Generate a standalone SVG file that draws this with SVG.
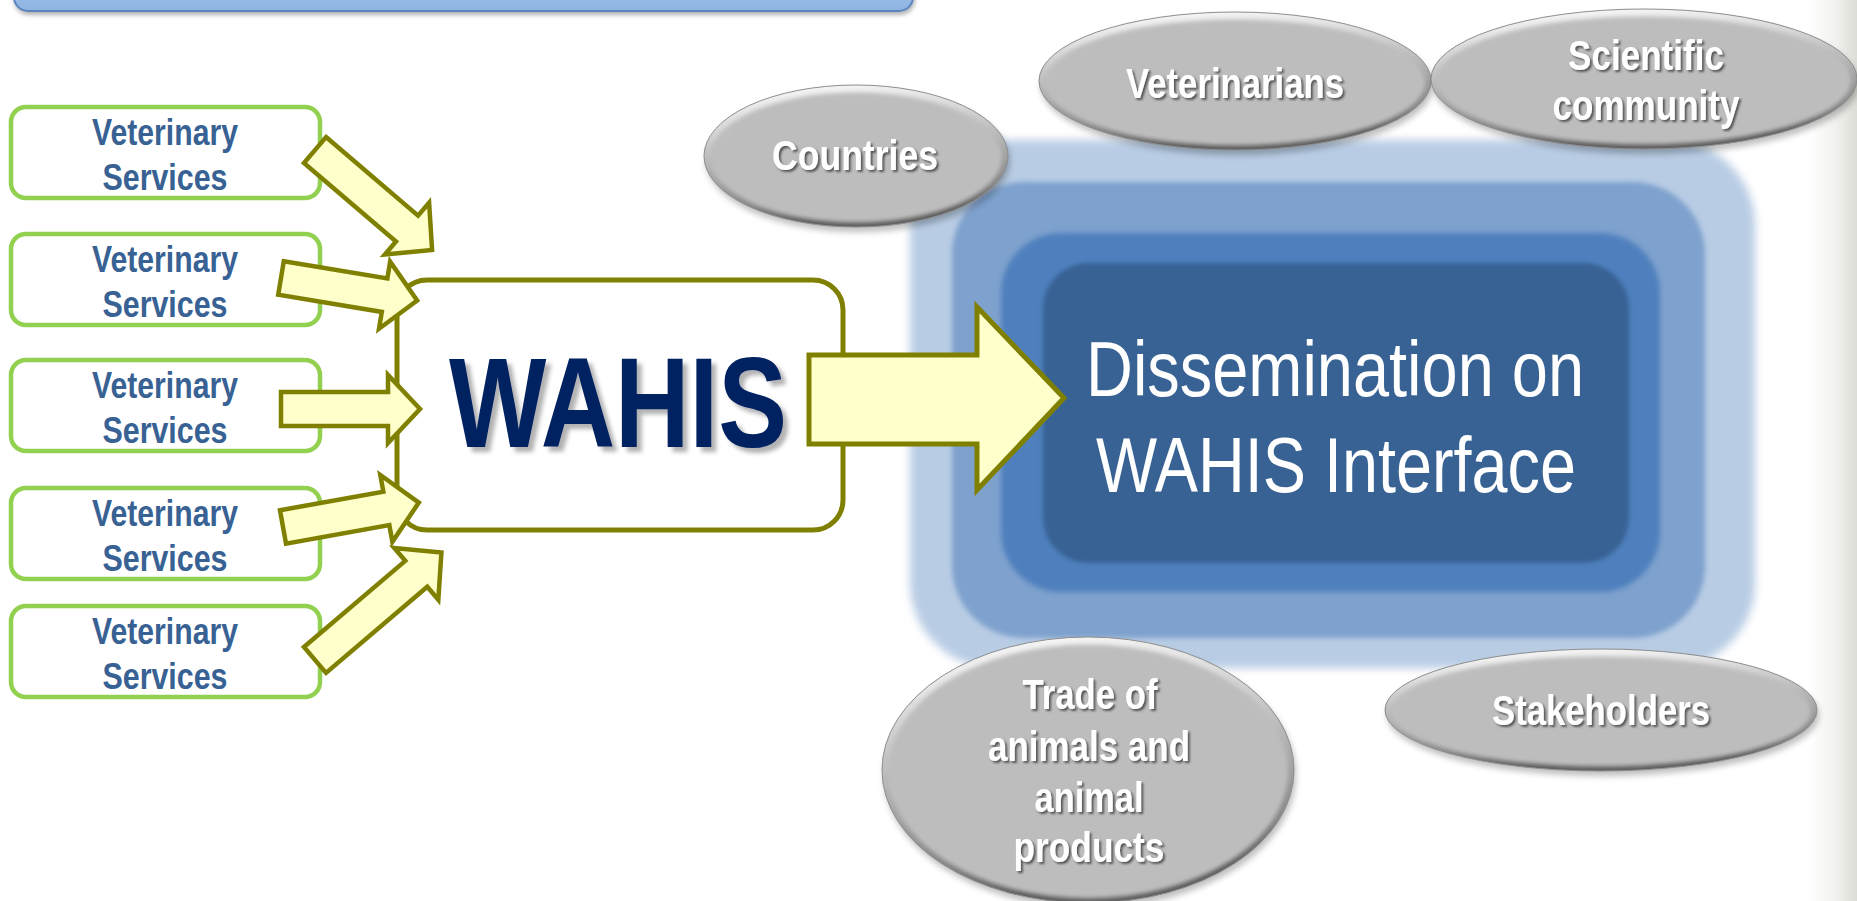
<svg xmlns="http://www.w3.org/2000/svg" width="1857" height="901" viewBox="0 0 1857 901">
<style>
.vt{font-family:"Liberation Sans Narrow","Liberation Sans",Arial,sans-serif;font-weight:bold;font-size:37px;fill:#386194;text-anchor:middle}
.ot{font-family:"Liberation Sans Narrow","Liberation Sans",Arial,sans-serif;font-weight:bold;font-size:42px;fill:#ffffff;text-anchor:middle;filter:url(#tsh)}
.dt{font-family:"Liberation Sans Narrow","Liberation Sans",Arial,sans-serif;font-size:78px;fill:#ffffff;text-anchor:middle}
.vbox{fill:#ffffff;stroke:#92d050;stroke-width:4.5}
.sarrow{fill:#ffffcc;stroke:#808000;stroke-width:4.5;stroke-linejoin:miter}
.rim{fill:url(#rimG);stroke:#8e8e8e;stroke-width:1}
.face{fill:#bdbdbd;filter:url(#soft)}
.osh{fill:#000;opacity:0.25;filter:url(#shb)}
</style>
<defs>
<linearGradient id="barG" x1="0" y1="0" x2="0" y2="1"><stop offset="0" stop-color="#b6d1ee"/><stop offset="1" stop-color="#8db3e2"/></linearGradient>
<linearGradient id="rimG" x1="0" y1="0" x2="0.2" y2="1"><stop offset="0" stop-color="#ffffff"/><stop offset="0.2" stop-color="#e6e6e6"/><stop offset="0.55" stop-color="#b4b4b4"/><stop offset="0.85" stop-color="#858585"/><stop offset="1" stop-color="#5c5c5c"/></linearGradient>
<linearGradient id="stripG" x1="0" y1="0" x2="1" y2="0"><stop offset="0" stop-color="#ffffff"/><stop offset="0.55" stop-color="#f1f1ee"/><stop offset="1" stop-color="#dcddd6"/></linearGradient>
<filter id="soft" x="-10%" y="-10%" width="120%" height="120%"><feGaussianBlur stdDeviation="2"/></filter>
<filter id="shb" x="-10%" y="-10%" width="120%" height="130%"><feGaussianBlur stdDeviation="3"/></filter>
<filter id="glow5" x="-5%" y="-5%" width="110%" height="110%"><feGaussianBlur stdDeviation="4"/></filter>
<filter id="glow3" x="-5%" y="-5%" width="110%" height="110%"><feGaussianBlur stdDeviation="2.5"/></filter>
<filter id="tsh" x="-5%" y="-10%" width="115%" height="130%"><feDropShadow dx="2" dy="2" stdDeviation="1" flood-color="#3a3a3a" flood-opacity="0.8"/></filter>
<filter id="wsh" x="-5%" y="-10%" width="115%" height="130%"><feDropShadow dx="5" dy="5" stdDeviation="2" flood-color="#000000" flood-opacity="0.3"/></filter>
<filter id="barsh" x="-5%" y="-20%" width="110%" height="160%"><feDropShadow dx="1" dy="3" stdDeviation="2" flood-color="#000000" flood-opacity="0.3"/></filter>
</defs>

<rect x="0" y="0" width="1857" height="901" fill="#ffffff"/>
<rect x="1810" y="0" width="47" height="901" fill="url(#stripG)"/>

<g id="top-bar">
<rect x="14" y="-40" width="899" height="51" rx="14" fill="url(#barG)" stroke="#5b84bd" stroke-width="2" filter="url(#barsh)"/>
</g>

<g id="dissemination">
<rect x="910" y="140" width="845" height="528" rx="85" fill="#b8cce4" filter="url(#glow5)"/>
<rect x="952" y="182" width="753" height="456" rx="72" fill="#7ea1cd" filter="url(#glow3)"/>
<rect x="1001" y="233" width="659" height="359" rx="60" fill="#4f80bd" filter="url(#glow3)"/>
<rect x="1043" y="263" width="586" height="300" rx="45" fill="#386294" filter="url(#soft)"/>
<text class="dt" x="1335" y="396" textLength="498" lengthAdjust="spacingAndGlyphs">Dissemination on</text>
<text class="dt" x="1336" y="492" textLength="480" lengthAdjust="spacingAndGlyphs">WAHIS Interface</text>
</g>

<g id="vs1">
<rect class="vbox" x="11" y="107" width="309" height="91" rx="15"/>
<text class="vt" x="165" y="145" textLength="146" lengthAdjust="spacingAndGlyphs">Veterinary</text>
<text class="vt" x="165" y="190" textLength="125" lengthAdjust="spacingAndGlyphs">Services</text>
</g>
<g id="vs2">
<rect class="vbox" x="11" y="234" width="309" height="91" rx="15"/>
<text class="vt" x="165" y="272" textLength="146" lengthAdjust="spacingAndGlyphs">Veterinary</text>
<text class="vt" x="165" y="317" textLength="125" lengthAdjust="spacingAndGlyphs">Services</text>
</g>
<g id="vs3">
<rect class="vbox" x="11" y="360" width="309" height="91" rx="15"/>
<text class="vt" x="165" y="398" textLength="146" lengthAdjust="spacingAndGlyphs">Veterinary</text>
<text class="vt" x="165" y="443" textLength="125" lengthAdjust="spacingAndGlyphs">Services</text>
</g>
<g id="vs4">
<rect class="vbox" x="11" y="488" width="309" height="91" rx="15"/>
<text class="vt" x="165" y="526" textLength="146" lengthAdjust="spacingAndGlyphs">Veterinary</text>
<text class="vt" x="165" y="571" textLength="125" lengthAdjust="spacingAndGlyphs">Services</text>
</g>
<g id="vs5">
<rect class="vbox" x="11" y="606" width="309" height="91" rx="15"/>
<text class="vt" x="165" y="644" textLength="146" lengthAdjust="spacingAndGlyphs">Veterinary</text>
<text class="vt" x="165" y="689" textLength="125" lengthAdjust="spacingAndGlyphs">Services</text>
</g>

<g id="wahis">
<rect x="397" y="280" width="446" height="250" rx="30" fill="#ffffff" stroke="#808000" stroke-width="5"/>
<text x="618" y="447" font-family="'Liberation Sans Narrow','Liberation Sans',Arial,sans-serif" font-weight="bold" font-size="128" fill="#002060" text-anchor="middle" textLength="338" lengthAdjust="spacingAndGlyphs" filter="url(#wsh)">WAHIS</text>
</g>

<g id="connectors">
<polygon class="sarrow" transform="translate(315,150) rotate(40.5)" points="0,-17 121,-17 121,-34 154,0 121,34 121,17 0,17"/>
<polygon class="sarrow" transform="translate(281,278) rotate(9.4)" points="0,-17 105,-17 105,-34 138,0 105,34 105,17 0,17"/>
<polygon class="sarrow" transform="translate(281,409)" points="0,-17 107,-17 107,-34 139,0 107,34 107,17 0,17"/>
<polygon class="sarrow" transform="translate(283,527) rotate(-10.2)" points="0,-17 105,-17 105,-34 138,0 105,34 105,17 0,17"/>
<polygon class="sarrow" transform="translate(315,660) rotate(-40.4)" points="0,-17 133,-17 133,-34 166,0 133,34 133,17 0,17"/>
<polygon points="809,355 977,355 977,307 1064,398 977,490 977,444 809,444" fill="#ffffcc" stroke="#808000" stroke-width="5"/>
</g>

<g id="countries">
<ellipse class="osh" cx="858" cy="161" rx="152" ry="71"/>
<ellipse class="rim" cx="856" cy="156" rx="152" ry="71"/>
<ellipse class="face" cx="856" cy="157.5" rx="146" ry="65"/>
<text class="ot" x="855" y="170" textLength="166" lengthAdjust="spacingAndGlyphs">Countries</text>
</g>
<g id="veterinarians">
<ellipse class="osh" cx="1237" cy="86" rx="196" ry="69"/>
<ellipse class="rim" cx="1235" cy="81" rx="196" ry="69"/>
<ellipse class="face" cx="1235" cy="82.5" rx="190" ry="63"/>
<text class="ot" x="1235" y="98" textLength="218" lengthAdjust="spacingAndGlyphs">Veterinarians</text>
</g>
<g id="scientific">
<ellipse class="osh" cx="1646" cy="84" rx="213" ry="70"/>
<ellipse class="rim" cx="1644" cy="79" rx="213" ry="70"/>
<ellipse class="face" cx="1644" cy="80.5" rx="207" ry="64"/>
<text class="ot" x="1646" y="70" textLength="156" lengthAdjust="spacingAndGlyphs">Scientific</text>
<text class="ot" x="1646" y="120" textLength="187" lengthAdjust="spacingAndGlyphs">community</text>
</g>
<g id="trade">
<ellipse class="osh" cx="1090" cy="775" rx="206" ry="133"/>
<ellipse class="rim" cx="1088" cy="770" rx="206" ry="133"/>
<ellipse class="face" cx="1088" cy="771.5" rx="200" ry="127"/>
<text class="ot" x="1090" y="709" textLength="135" lengthAdjust="spacingAndGlyphs">Trade of</text>
<text class="ot" x="1089" y="761" textLength="202" lengthAdjust="spacingAndGlyphs">animals and</text>
<text class="ot" x="1089" y="812" textLength="109" lengthAdjust="spacingAndGlyphs">animal</text>
<text class="ot" x="1089" y="862" textLength="151" lengthAdjust="spacingAndGlyphs">products</text>
</g>
<g id="stakeholders">
<ellipse class="osh" cx="1603" cy="715" rx="216" ry="61"/>
<ellipse class="rim" cx="1601" cy="710" rx="216" ry="61"/>
<ellipse class="face" cx="1601" cy="711.5" rx="210" ry="55"/>
<text class="ot" x="1601" y="725" textLength="218" lengthAdjust="spacingAndGlyphs">Stakeholders</text>
</g>
</svg>
